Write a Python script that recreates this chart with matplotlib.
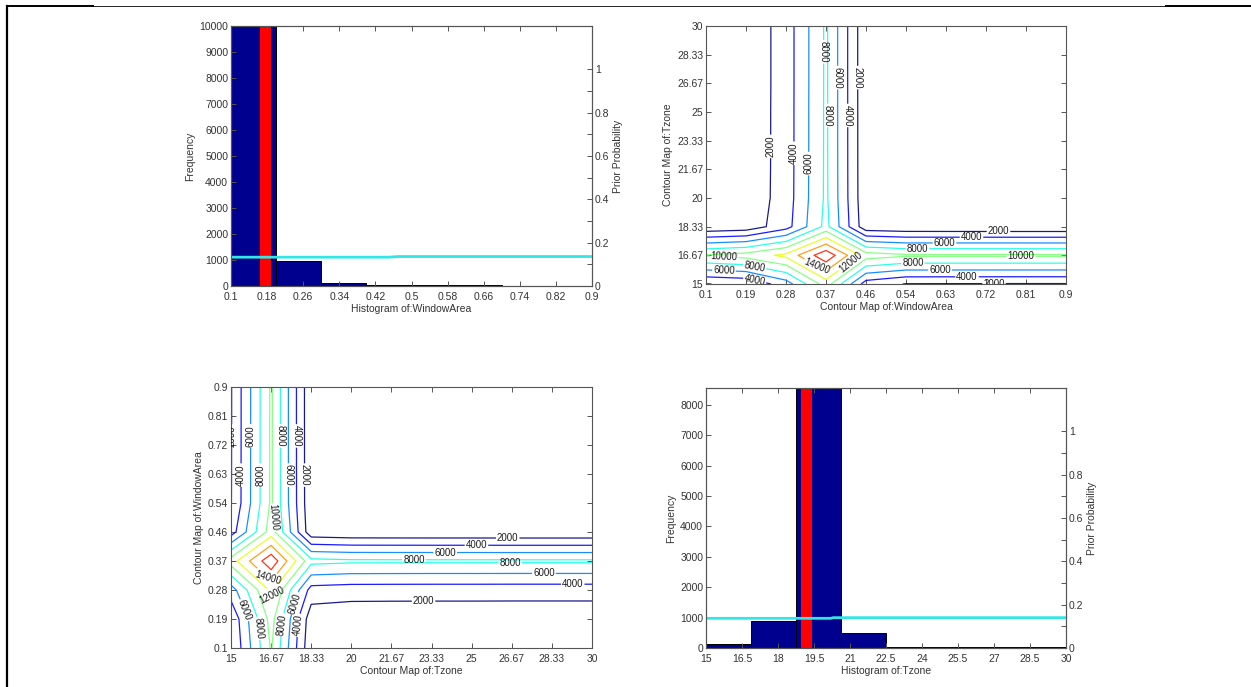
import numpy as np
import matplotlib
matplotlib.use('Agg')
from matplotlib import pyplot
from matplotlib.colors import Normalize
from matplotlib.lines import Line2D

pyplot.rcParams['font.family'] = ['Liberation Sans', 'DejaVu Sans']
pyplot.rcParams['font.size'] = 7.5

# --- histogram of WindowArea ---
wa_edges = [0.1, 0.2, 0.3, 0.4, 0.5, 0.6, 0.7, 0.8, 0.9]
wa_counts = [18000, 950, 120, 40, 25, 20, 15, 10]
wa_sample = 0.177
wa_prior_x = [0.1, 0.45, 0.47, 0.9]
wa_prior_y = [0.133, 0.133, 0.136, 0.136]
wa_hist_ticks = [0.1, 0.18, 0.26, 0.34, 0.42, 0.5, 0.58, 0.66, 0.74, 0.82, 0.9]
wa_hist_labels = ['0.1', '0.18', '0.26', '0.34', '0.42', '0.5', '0.58', '0.66', '0.74', '0.82', '0.9']
wa_freq_ticks = [0, 1000, 2000, 3000, 4000, 5000, 6000, 7000, 8000, 9000, 10000]

# --- histogram of Tzone ---
tz_edges = [15, 16.875, 18.75, 20.625, 22.5, 24.375, 26.25, 28.125, 30]
tz_counts = [120, 880, 12000, 500, 30, 20, 35, 25]
tz_sample = 19.17
tz_prior_x = [15, 20.2, 20.3, 30]
tz_prior_y = [0.137, 0.137, 0.140, 0.140]
tz_hist_ticks = [15, 16.5, 18, 19.5, 21, 22.5, 24, 25.5, 27, 28.5, 30]
tz_hist_labels = ['15', '16.5', '18', '19.5', '21', '22.5', '24', '25.5', '27', '28.5', '30']
tz_freq_ticks = [0, 1000, 2000, 3000, 4000, 5000, 6000, 7000, 8000]

prior_ticks = [0, 0.2, 0.4, 0.6, 0.8, 1]
prior_labels = ['0', '0.2', '0.4', '0.6', '0.8', '1']

# --- joint counts on the 10 x 10 grid (rows: Tzone, cols: WindowArea) ---
wa_grid = [0.1, 0.1889, 0.2778, 0.3667, 0.4556, 0.5444, 0.6333, 0.7222, 0.8111, 0.9]
tz_grid = [15, 16.667, 18.333, 20, 21.667, 23.333, 25, 26.667, 28.333, 30]
wa_grid_labels = ['0.1', '0.19', '0.28', '0.37', '0.46', '0.54', '0.63', '0.72', '0.81', '0.9']
tz_grid_labels = ['15', '16.67', '18.33', '20', '21.67', '23.33', '25', '26.67', '28.33', '30']
joint = [
    [1950, 2320, 5000, 11000, 3000, 1910, 1890, 1880, 1870, 1870],
    [10200, 10800, 12500, 17500, 11000, 10300, 10300, 10300, 10300, 10300],
    [400, 770, 3200, 8600, 620, 360, 340, 330, 320, 320],
    [160, 530, 2960, 8360, 380, 120, 100, 90, 80, 80],
    [140, 510, 2940, 8340, 360, 100, 80, 70, 60, 60],
    [130, 500, 2930, 8330, 350, 90, 70, 60, 50, 50],
    [130, 500, 2930, 8330, 350, 90, 70, 60, 50, 50],
    [120, 490, 2920, 8320, 340, 80, 60, 50, 40, 40],
    [120, 490, 2920, 8320, 340, 80, 60, 50, 40, 40],
    [120, 490, 2920, 8320, 340, 80, 60, 50, 40, 40],
]
levels = [2000, 4000, 6000, 8000, 10000, 12000, 14000, 16000]

# where each level's labels sit on the WindowArea/Tzone map
tr_labels = {
    2000: [(0.245, 23.0), (0.437, 27.0), (0.75, 18.05), (0.74, 15.05)],
    4000: [(0.295, 22.6), (0.415, 24.8), (0.69, 17.7), (0.68, 15.42), (0.21, 15.42)],
    6000: [(0.327, 22.0), (0.393, 27.0), (0.63, 17.35), (0.62, 15.82), (0.14, 15.82)],
    8000: [(0.358, 28.5), (0.37, 24.8), (0.57, 17.05), (0.56, 16.22), (0.21, 16.22)],
    10000: [(0.80, 16.62), (0.14, 16.62)],
    12000: [(0.42, 16.3)],
    14000: [(0.35, 16.2)],
}
# and on the Tzone/WindowArea map
bl_labels = {
    2000: [(15.05, 0.75), (18.06, 0.63), (26.5, 0.438), (23.0, 0.242)],
    4000: [(15.42, 0.63), (17.72, 0.75), (25.2, 0.415), (29.2, 0.295), (17.8, 0.17)],
    6000: [(15.82, 0.75), (17.39, 0.63), (23.9, 0.393), (28.0, 0.328), (15.7, 0.22),
           (17.5, 0.24)],
    8000: [(16.22, 0.63), (17.05, 0.75), (22.6, 0.371), (26.6, 0.361), (16.1, 0.16),
           (17.2, 0.17)],
    10000: [(16.67, 0.50)],
    12000: [(17.3, 0.25)],
    14000: [(16.6, 0.32)],
}

NAVY = '#00008f'
CYAN = '#33e6e6'
SPINE = '#555555'
TEXT = '#333333'

fig = pyplot.figure(figsize=(12.51, 6.87), dpi=100)
W, H = 1251.0, 687.0


def place(left, top, right, bottom):
    return fig.add_axes([left / W, 1 - bottom / H, (right - left) / W, (bottom - top) / H])


def style(ax):
    for s in ax.spines.values():
        s.set_color(SPINE)
        s.set_linewidth(0.8)
    ax.tick_params(direction='in', top=True, right=True, length=3.5, width=0.7,
                   colors=SPINE, labelcolor=TEXT, labelsize=7.5, pad=2)
    ax.tick_params(axis='x', pad=4)


def histogram(ax, edges, counts, sample, px, py, xticks, xlabels, yticks, ytop, xlabel):
    edges = np.array(edges)
    widths = np.diff(edges)
    ax.bar(edges[:-1], counts, width=widths, align='edge', color=NAVY,
           edgecolor='k', linewidth=0.7)
    span = edges[-1] - edges[0]
    ax.axvspan(sample - 0.0152 * span, sample + 0.0152 * span, color='red', lw=0)
    ax.set_xlim(edges[0], edges[-1])
    ax.set_ylim(0, ytop)
    ax.set_xticks(xticks)
    ax.set_xticklabels(xlabels)
    ax.set_yticks(yticks)
    ax.set_xlabel(xlabel, color=TEXT, labelpad=2)
    ax.set_ylabel('Frequency', color=TEXT, labelpad=3)
    style(ax)
    ax2 = ax.twinx()
    ax2.plot(px, py, color=CYAN, linewidth=2.0)
    ax2.set_ylim(0, 1.2)
    ax2.set_xlim(edges[0], edges[-1])
    ax2.set_yticks(prior_ticks)
    ax2.set_yticklabels(prior_labels)
    ax2.set_yticks([0.1, 0.3, 0.5, 0.7, 0.9], minor=True)
    ax2.set_ylabel('Prior Probability', color=TEXT, labelpad=3)
    for s in ax2.spines.values():
        s.set_color(SPINE)
        s.set_linewidth(0.8)
    ax2.tick_params(which='both', direction='in', length=3.5, width=0.7,
                    colors=SPINE, labelcolor=TEXT, labelsize=7.5, pad=2)


def contour_map(ax, x, y, z, xlabels, ylabels, xlabel, ylabel, label_spots):
    norm = Normalize(vmin=2000, vmax=18000)
    cmap = pyplot.get_cmap('jet')
    # one contour set per level, so each level gets its own hand-placed labels
    for lev in levels:
        cs = ax.contour(x, y, z, levels=[lev], colors=[cmap(norm(lev))],
                        linewidths=0.9, alpha=0.9)
        spots = label_spots.get(lev)
        if spots:
            cs.clabel(inline=True, fontsize=7, fmt='%d', colors='k',
                      inline_spacing=1, manual=spots)
    ax.set_xlim(x[0], x[-1])
    ax.set_ylim(y[0], y[-1])
    ax.set_xticks(x)
    ax.set_xticklabels(xlabels)
    ax.set_yticks(y)
    ax.set_yticklabels(ylabels)
    ax.set_xlabel(xlabel, color=TEXT, labelpad=2)
    ax.set_ylabel(ylabel, color=TEXT, labelpad=3)
    style(ax)


z = np.array(joint)

ax_tl = place(231, 26, 592, 286)
histogram(ax_tl, wa_edges, wa_counts, wa_sample, wa_prior_x, wa_prior_y,
          wa_hist_ticks, wa_hist_labels, wa_freq_ticks, 10000, 'Histogram of:WindowArea')

ax_tr = place(706, 26, 1066, 284)
contour_map(ax_tr, wa_grid, tz_grid, z, wa_grid_labels, tz_grid_labels,
            'Contour Map of:WindowArea', 'Contour Map of:Tzone', tr_labels)

ax_bl = place(231, 387, 592, 648)
contour_map(ax_bl, tz_grid, wa_grid, z.T, tz_grid_labels, wa_grid_labels,
            'Contour Map of:Tzone', 'Contour Map of:WindowArea', bl_labels)

ax_br = place(706, 388, 1066, 648)
histogram(ax_br, tz_edges, tz_counts, tz_sample, tz_prior_x, tz_prior_y,
          tz_hist_ticks, tz_hist_labels, tz_freq_ticks, 8550, 'Histogram of:Tzone')

# page frame around the figure
fig.add_artist(Line2D([7 / W, 7 / W], [1 - 6 / H, 0], color='k', linewidth=1.6))
fig.add_artist(Line2D([7 / W, 93 / W], [1 - 6 / H, 1 - 6 / H], color='k', linewidth=1.4))
fig.add_artist(Line2D([93 / W, 1166 / W], [1 - 6 / H, 1 - 6 / H], color='k', linewidth=0.6))
fig.add_artist(Line2D([1166 / W, 1], [1 - 6 / H, 1 - 6 / H], color='k', linewidth=1.4))

fig.savefig('out.png', dpi=100)
